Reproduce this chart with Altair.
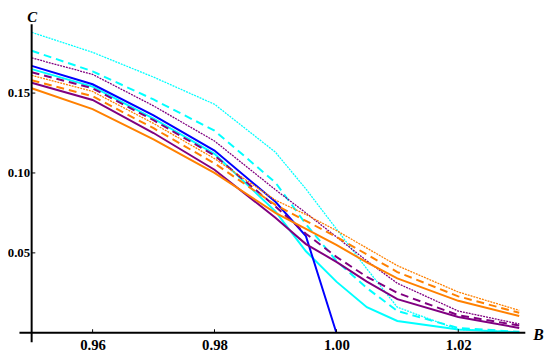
import altair as alt
import pandas as pd

# ---- data ----
x_vals = [0.95, 0.96, 0.97, 0.98, 0.99, 0.995, 1.00, 1.005, 1.01, 1.02, 1.03]

cyan_dotted   = [0.188, 0.1755, 0.160, 0.143, 0.113, 0.090, 0.065, 0.040, 0.016, 0.002, 0.0005]
cyan_dashed   = [0.1765, 0.1636, 0.146, 0.1265, 0.094, 0.068, 0.045, 0.028, 0.0136, 0.003, 0.0006]
cyan_solid    = [0.165, 0.154, 0.134, 0.112, 0.076, 0.051, 0.032, 0.016, 0.0074, 0.002, 0.0003]
purple_dotted = [0.172, 0.1617, 0.142, 0.120, 0.0895, 0.075, 0.060, 0.045, 0.031, 0.0136, 0.0055]
purple_dashed = [0.163, 0.153, 0.133, 0.111, 0.079, 0.062, 0.0475, 0.035, 0.025, 0.011, 0.0045]
purple_solid  = [0.1565, 0.1457, 0.125, 0.102, 0.072, 0.0555, 0.0444, 0.032, 0.021, 0.0099, 0.003]
orange_dotted = [0.161, 0.151, 0.131, 0.109, 0.083, 0.074, 0.064, 0.053, 0.042, 0.0255, 0.014]
orange_dashed = [0.158, 0.148, 0.128, 0.106, 0.080, 0.070, 0.060, 0.049, 0.038, 0.0228, 0.0125]
orange_solid  = [0.153, 0.140, 0.121, 0.100, 0.075, 0.065, 0.055, 0.044, 0.034, 0.020, 0.0105]
blue_x        = [0.95, 0.96, 0.97, 0.98, 0.99, 0.995, 1.00]
blue_solid    = [0.167, 0.1555, 0.136, 0.114, 0.082, 0.0605, 0.0]

x_ticks = [0.96, 0.98, 1.00, 1.02]
y_ticks = [0.05, 0.10, 0.15]

x_domain = [0.95, 1.031]
y_domain = [0.0, 0.193]

# ---- styles ----
CYAN, PURPLE, ORANGE, BLUE = "#00FFFF", "#800080", "#FF8000", "#0000FF"
SOLID = dict(strokeWidth=2.0)
DASHED = dict(strokeWidth=2.0, strokeDash=[8, 5])
DOTTED = dict(strokeWidth=1.3, strokeDash=[2, 1])

series = [
    (cyan_dotted, x_vals, CYAN, DOTTED),
    (cyan_dashed, x_vals, CYAN, DASHED),
    (cyan_solid, x_vals, CYAN, SOLID),
    (blue_solid, blue_x, BLUE, SOLID),
    (purple_dotted, x_vals, PURPLE, DOTTED),
    (purple_dashed, x_vals, PURPLE, DASHED),
    (purple_solid, x_vals, PURPLE, SOLID),
    (orange_dotted, x_vals, ORANGE, DOTTED),
    (orange_dashed, x_vals, ORANGE, DASHED),
    (orange_solid, x_vals, ORANGE, SOLID),
]

W, H = 501, 313
FONT = "Liberation Serif"

xscale = alt.Scale(domain=x_domain, nice=False, zero=False)
yscale = alt.Scale(domain=y_domain, nice=False, zero=False)

x_axis = alt.Axis(
    values=x_ticks, format=".2f", domain=False, ticks=False, grid=False,
    labelFont=FONT, labelFontWeight="bold", labelFontSize=15, labelColor="black",
    labelPadding=5, title="B", titleFont=FONT, titleFontStyle="italic",
    titleFontWeight="bold", titleFontSize=16, titleColor="black",
    titleAngle=0, titleX=W + 13, titleY=2, titleAlign="center", titleBaseline="middle",
)
y_axis = alt.Axis(
    values=y_ticks, format=".2f", domain=False, ticks=False, grid=False,
    labelFont=FONT, labelFontWeight="bold", labelFontSize=13, labelColor="black",
    labelPadding=2, title="C", titleFont=FONT, titleFontStyle="italic",
    titleFontWeight="bold", titleFontSize=15, titleColor="black",
    titleAngle=0, titleX=0, titleY=-3, titleAlign="center", titleBaseline="alphabetic",
)

def X(field="B"):
    return alt.X(f"{field}:Q", scale=xscale, axis=x_axis)

def Y(field="C"):
    return alt.Y(f"{field}:Q", scale=yscale, axis=y_axis)

layers = []
for vals, xs, color, style in series:
    df = pd.DataFrame({"B": xs, "C": vals})
    layers.append(
        alt.Chart(df).mark_line(color=color, interpolate="linear", **style).encode(
            x=X(), y=Y(), order="B:Q")
    )

# axis lines (Mathematica style, crossing at origin, slightly extended)
xaxis_df = pd.DataFrame({"B": [0.948], "B2": [x_domain[1]], "C": [0.0]})
yaxis_df = pd.DataFrame({"B": [x_domain[0]], "C": [-0.006], "C2": [y_domain[1]]})
layers.append(
    alt.Chart(xaxis_df).mark_rule(color="black", strokeWidth=2).encode(
        x=X(), x2="B2:Q", y=Y())
)
layers.append(
    alt.Chart(yaxis_df).mark_rule(color="black", strokeWidth=2).encode(
        x=X(), y=Y(), y2="C2:Q")
)
# small inward ticks
xt_df = pd.DataFrame({"B": x_ticks, "C": [0.0] * len(x_ticks), "C2": [0.0022] * len(x_ticks)})
yt_df = pd.DataFrame({"B": [x_domain[0]] * len(y_ticks), "B2": [0.9506] * len(y_ticks), "C": y_ticks})
layers.append(
    alt.Chart(xt_df).mark_rule(color="black", strokeWidth=1).encode(
        x=X(), y=Y(), y2="C2:Q")
)
layers.append(
    alt.Chart(yt_df).mark_rule(color="black", strokeWidth=1).encode(
        x=X(), x2="B2:Q", y=Y())
)

chart = (
    alt.layer(*layers)
    .properties(
        width=W, height=H,
        padding={"left": 24, "top": 14, "right": 21, "bottom": 22},
        autosize=alt.AutoSizeParams(type="none"),
        background="white",
    )
    .configure_view(stroke=None)
)

chart.save("out.html", embed_options={"renderer": "svg", "actions": False})
